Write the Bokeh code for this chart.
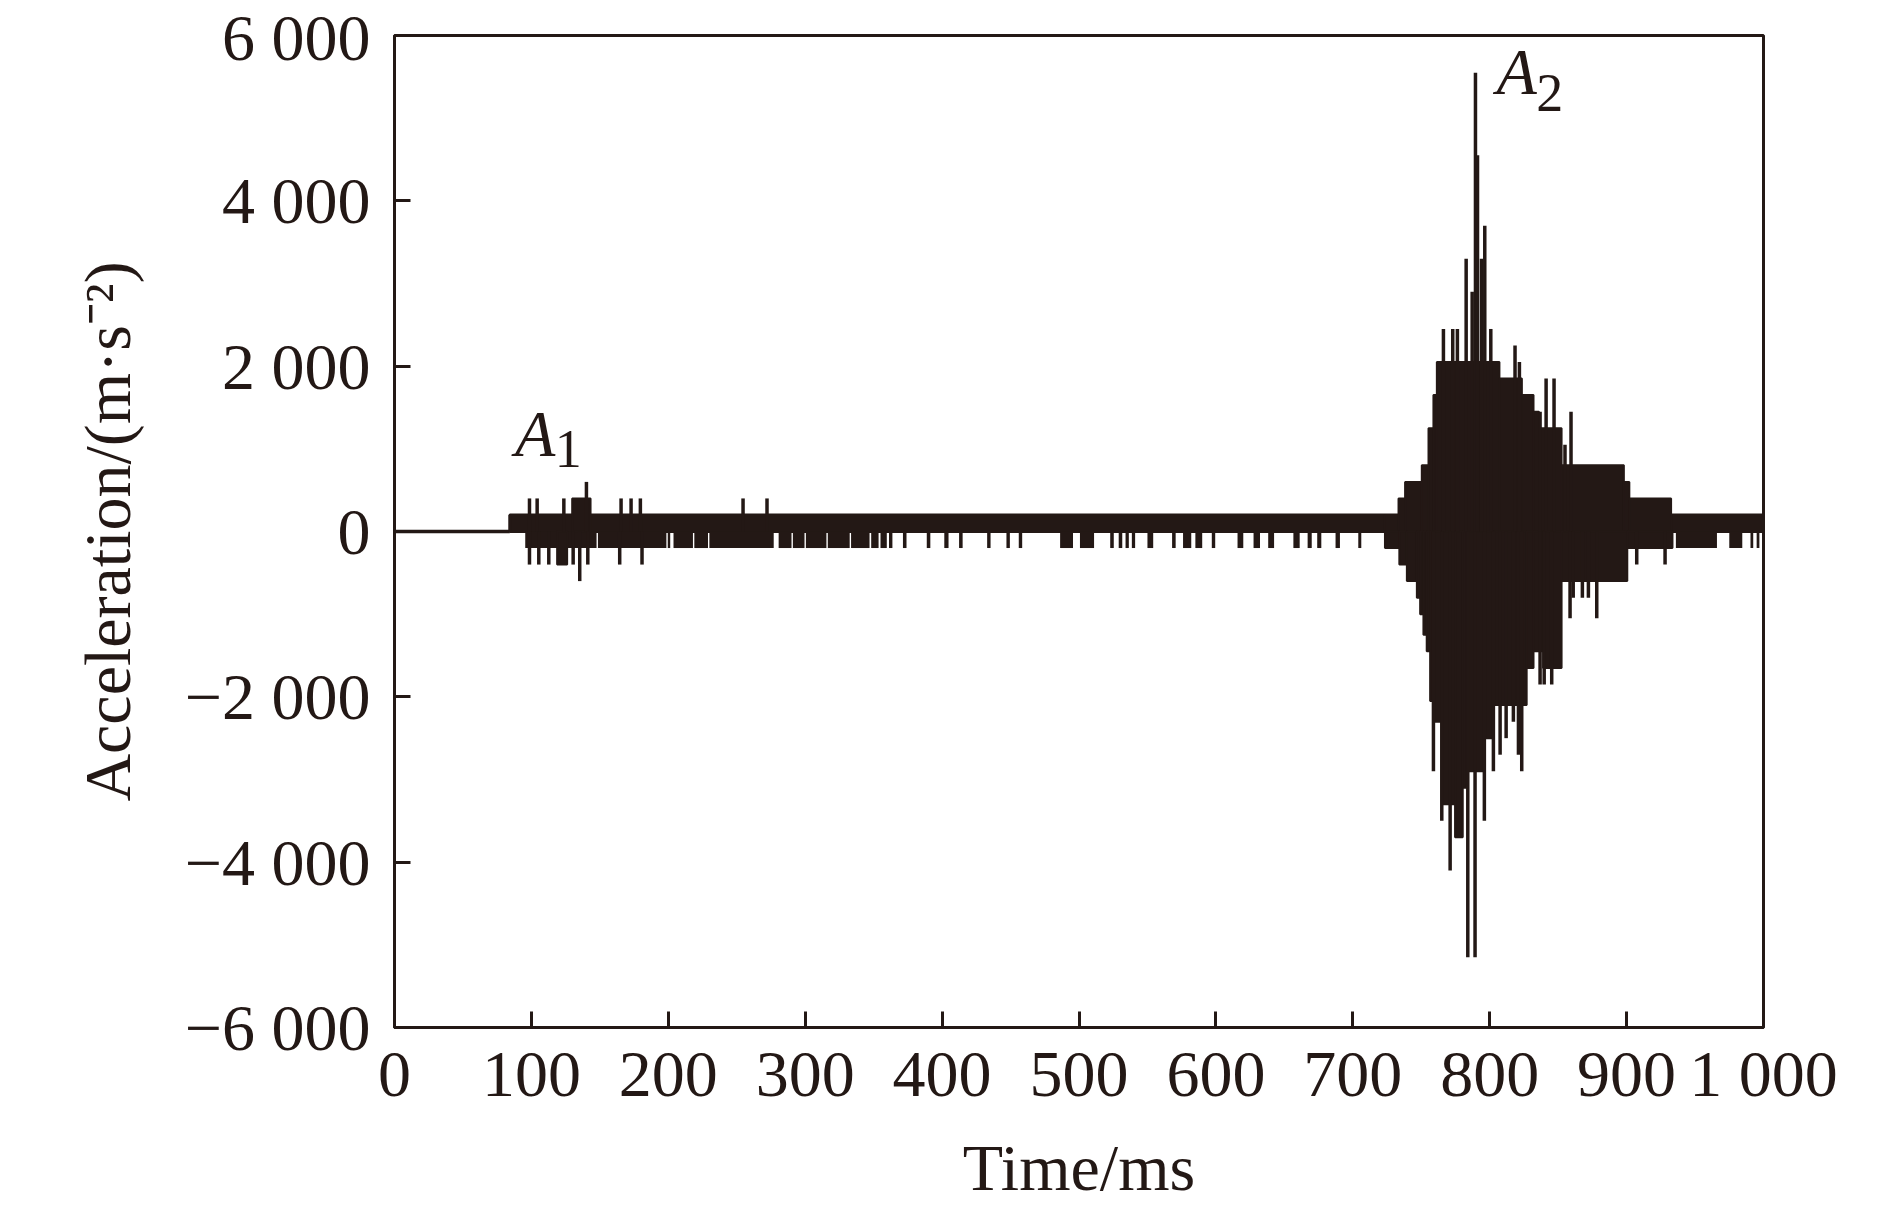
from bokeh.plotting import figure
from bokeh.models import FixedTicker, Label, Range1d, CustomJSTickFormatter
from bokeh.embed import file_html
from bokeh.resources import INLINE

INK = "#231815"
FONT = "Liberation Serif"

# ---------------- data (time in ms, acceleration in m/s^2) ----------------
# quiet record before the first arrival
flat_t = [0.0, 84.2]
flat_v = [0.0, 0.0]

# steady quantisation noise band (0 .. +200) after trigger
band_t0 = [84.2]
band_t1 = [1000.0]
band_lo = [0.0]
band_hi = [200.0]

# stretches where the noise reaches the -200 level
dip_t0 = [95.5, 148.6, 199.6, 203.8, 219.0, 230.0, 280.6, 291.0, 300.5, 316.5, 333.5, 348.2,
          355.0, 361.2, 371.4, 388.8, 401.6, 412.4, 432.9, 447.0, 456.0, 486.2, 500.7, 522.8,
          529.0, 534.0, 538.6, 550.0, 568.0, 576.0, 585.0, 597.0, 615.8, 627.5, 638.2, 656.6,
          667.0, 674.0, 687.4, 704.0, 936.0, 975.0, 990.5, 995.0]
dip_t1 = [147.6, 198.6, 201.4, 218.0, 229.0, 277.0, 290.0, 299.5, 315.5, 332.5, 347.0, 353.6,
          359.6, 363.7, 374.0, 391.4, 404.7, 415.0, 435.4, 449.5, 458.5, 495.6, 511.0, 525.4,
          531.6, 536.4, 541.0, 554.2, 570.6, 582.0, 590.0, 599.5, 620.0, 632.2, 642.5, 661.2,
          670.0, 677.0, 690.6, 706.2, 966.0, 984.5, 992.5, 997.0]
dip_v = [-200.0] * len(dip_t0)

# first arrival A1: short blocks and isolated samples
a1_blk_t0 = [118.8, 129.8]
a1_blk_t1 = [126.1, 143.2]
a1_blk_v = [-400.0, 400.0]
a1_spk_t = [98.6, 104.2, 123.7, 140.2, 165.5, 172.8, 179.6, 254.6, 272.1,
            98.6, 105.4, 112.7, 130.5, 135.3, 141.2, 164.5, 180.8]
a1_spk_v = [400, 400, 400, 600, 400, 400, 400, 400, 400,
            -400, -400, -400, -400, -600, -400, -400, -400]

# second arrival A2: stepwise envelope of the dense oscillation
ev_up_edges = [723.5, 733.4, 738.2, 750.4, 755.3, 758.9, 761.4, 807.1, 823.5, 832.0, 836.0,
               852.5, 898.0, 902.0, 932.5]
ev_up_vals = [200, 400, 600, 800, 1250, 1650, 2050, 1850, 1650, 1450, 1250, 800, 600, 400]
ev_lo_edges = [723.5, 734.0, 739.5, 746.8, 749.2, 751.6, 754.0, 756.5, 759.0, 765.0, 774.7,
               780.3, 783.0, 796.0, 803.0, 827.0, 832.0, 839.0, 852.5, 900.5, 933.5]
ev_lo_vals = [-200, -400, -600, -800, -1000, -1250, -1450, -2050, -2300, -3300, -3700,
              -3100, -2900, -2500, -2100, -1650, -1450, -1650, -600, -200]

# isolated samples standing out of the A2 envelope
ev_up_spk_t = [766.2, 773.0, 776.4, 782.8, 787.2, 789.6, 791.1, 794.0, 796.4, 800.8, 818.5,
               821.7, 836.8, 841.2, 847.0, 855.0, 859.4]
ev_up_spk_v = [2450, 2450, 2450, 3300, 2900, 5550, 4550, 3300, 3700, 2450, 2250,
               2050, 1450, 1850, 1850, 1050, 1450]
ev_dn_spk_t = [758.9, 765.0, 771.1, 784.0, 789.3, 796.1, 802.7, 807.6, 812.0, 817.3, 821.0,
               823.4, 836.8, 839.8, 845.3, 858.7, 861.0, 867.7, 872.1, 878.2, 907.4, 928.1]
ev_dn_spk_v = [-2900, -3500, -4100, -5150, -5150, -3500, -2900, -2700, -2500, -2300, -2700,
               -2900, -1850, -1850, -1850, -1050, -800, -800, -800, -1050, -400, -400]

x_ticks = list(range(0, 1001, 100))
y_ticks = [-6000, -4000, -2000, 0, 2000, 4000, 6000]

# ---------------- figure ----------------
p = figure(frame_width=1369, frame_height=992, output_backend="svg", toolbar_location=None,
           x_range=Range1d(0, 1000), y_range=Range1d(-6000, 6000),
           min_border_left=394, min_border_top=35, min_border_right=100, min_border_bottom=170,
           background_fill_color="white", border_fill_color="white")
p.xgrid.visible = False
p.ygrid.visible = False
p.outline_line_color = INK
p.outline_line_width = 3
p.outline_line_alpha = 1.0

fmt = CustomJSTickFormatter(code="""
const s = Math.abs(Math.round(tick)).toString();
const r = s.length > 3 ? s.slice(0, s.length - 3) + " " + s.slice(s.length - 3) : s;
return (tick < 0 ? "\u2212" : "") + r;
""")

p.xaxis.ticker = FixedTicker(ticks=x_ticks)
p.yaxis.ticker = FixedTicker(ticks=y_ticks)
for ax in (p.xaxis[0], p.yaxis[0]):
    ax.formatter = fmt
    ax.axis_line_color = INK
    ax.axis_line_width = 3
    ax.major_tick_line_color = INK
    ax.major_tick_line_width = 3
    ax.major_tick_in = 16
    ax.major_tick_out = 0
    ax.minor_tick_line_color = None
    ax.major_label_text_font = FONT
    ax.major_label_text_font_size = "66px"
    ax.major_label_text_color = INK
    ax.axis_label_text_font = FONT
    ax.axis_label_text_font_size = "66px"
    ax.axis_label_text_font_style = "normal"
    ax.axis_label_text_color = INK

p.xaxis.axis_label = "Time/ms"
p.yaxis.axis_label = "Acceleration/(m\u00b7s\u207b\u00b2)"
p.xaxis.major_label_standoff = 9
p.yaxis.major_label_standoff = 24
p.xaxis.axis_label_standoff = 18
p.yaxis.axis_label_standoff = 38

# quiet line
p.line(flat_t, flat_v, line_color=INK, line_width=3.5)
# noise band and dips
p.quad(left=band_t0, right=band_t1, bottom=band_lo, top=band_hi,
       fill_color=INK, line_color=INK, line_width=3)
p.quad(left=dip_t0, right=dip_t1, bottom=dip_v, top=[0.0] * len(dip_v),
       fill_color=INK, line_color=None)
# A1 blocks and samples
p.quad(left=a1_blk_t0, right=a1_blk_t1, bottom=[min(0, v) for v in a1_blk_v],
       top=[max(0, v) for v in a1_blk_v], fill_color=INK, line_color=INK, line_width=2)
p.segment(x0=a1_spk_t, y0=[0] * len(a1_spk_t), x1=a1_spk_t, y1=a1_spk_v,
          line_color=INK, line_width=3.5)
# A2 envelope
p.quad(left=ev_up_edges[:-1], right=ev_up_edges[1:], bottom=[0] * len(ev_up_vals), top=ev_up_vals,
       fill_color=INK, line_color=INK, line_width=2)
p.quad(left=ev_lo_edges[:-1], right=ev_lo_edges[1:], bottom=ev_lo_vals, top=[0] * len(ev_lo_vals),
       fill_color=INK, line_color=INK, line_width=2)
p.segment(x0=ev_up_spk_t, y0=[0] * len(ev_up_spk_t), x1=ev_up_spk_t, y1=ev_up_spk_v,
          line_color=INK, line_width=3.5)
p.segment(x0=ev_dn_spk_t, y0=[0] * len(ev_dn_spk_t), x1=ev_dn_spk_t, y1=ev_dn_spk_v,
          line_color=INK, line_width=3.5)

# annotations A1, A2
for (xa, ya, xs, ys, sub) in [(88, 1180, 117, 1000, "1"), (805, 5560, 834, 5300, "2")]:
    p.add_layout(Label(x=xa, y=ya, text="A", text_font=FONT, text_font_style="italic",
                       text_font_size="66px", text_color=INK, text_align="left",
                       text_baseline="alphabetic"))
    p.add_layout(Label(x=xs, y=ys, text=sub, text_font=FONT, text_font_size="54px",
                       text_color=INK, text_align="left", text_baseline="alphabetic"))

open("out.html", "w").write(file_html(p, INLINE))
